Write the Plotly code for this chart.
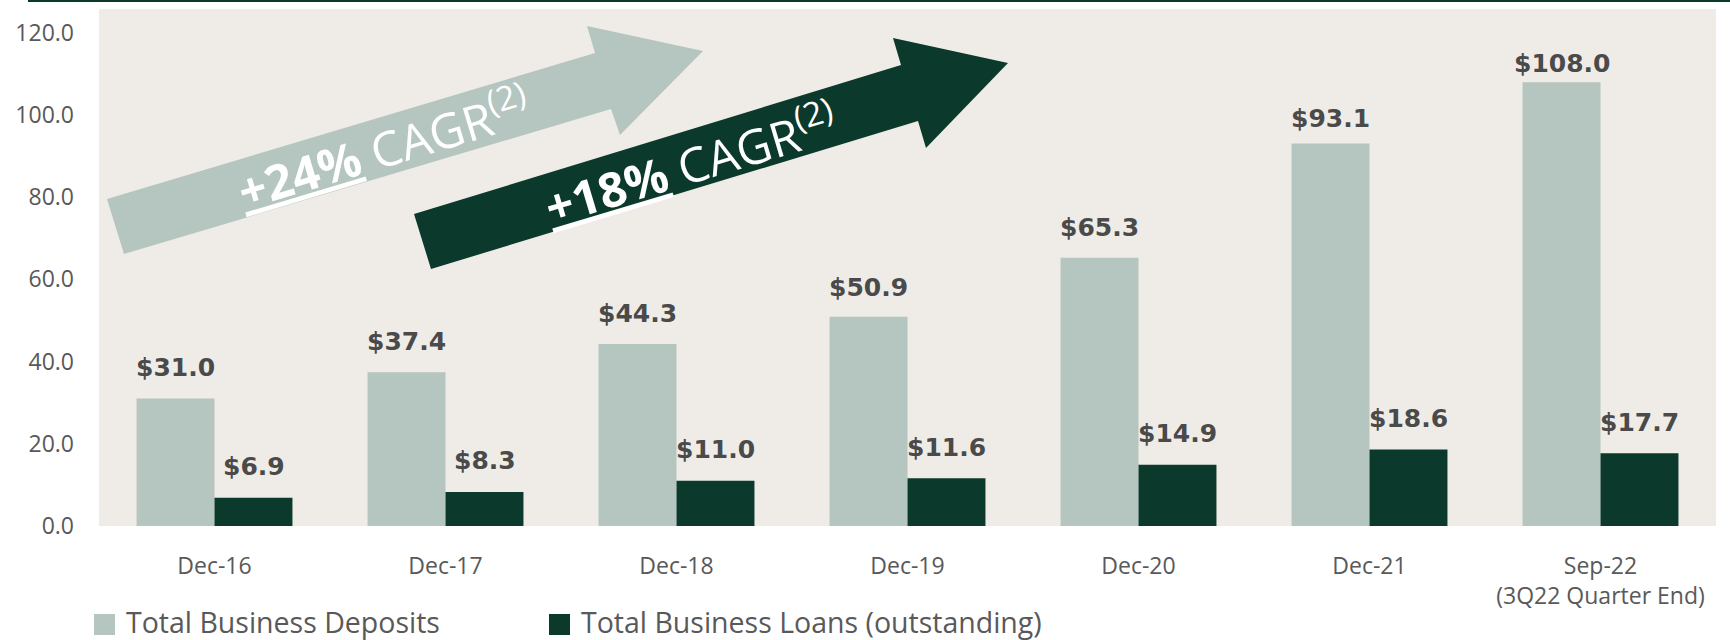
import plotly.graph_objects as go

# --- data ---
categories = ["Dec-16", "Dec-17", "Dec-18", "Dec-19", "Dec-20", "Dec-21",
              "Sep-22<br>(3Q22 Quarter End)"]
deposits = [31.0, 37.4, 44.3, 50.9, 65.3, 93.1, 108.0]
loans = [6.9, 8.3, 11.0, 11.6, 14.9, 18.6, 17.7]
series_names = ["Total Business Deposits", "Total Business Loans (outstanding)"]
y_ticks = [0, 20, 40, 60, 80, 100, 120]
cagr_texts = ["+24%", "+18%"]

LIGHT = "#B5C5BF"
DARK = "#0B3A2C"
BG = "#EFECE7"
LABEL = "#4A4A4A"
TICK = "#595959"

W, H = 1730, 640
L, R, T, B = 99, 14, 9, 114
PW, PH = W - L - R, H - T - B


def px(x, y):
    # pixel position on the page -> paper coords
    return (x - L) / PW, (H - B - y) / PH


def poly(points):
    parts = []
    for i, (x, y) in enumerate(points):
        u, v = px(x, y)
        parts.append(("M" if i == 0 else "L") + f"{u:.5f},{v:.5f}")
    return " ".join(parts) + " Z"


fig = go.Figure()
fig.add_trace(go.Bar(x=categories, y=deposits, name=series_names[0],
                     marker_color=LIGHT, marker_line_width=0, showlegend=False))
fig.add_trace(go.Bar(x=categories, y=loans, name=series_names[1],
                     marker_color=DARK, marker_line_width=0, showlegend=False))

# value labels above bars (the two tallest sit a little closer to their bars)
bar_px = 78
dep_lift = [31, 31, 30, 29, 30, 25, 19]
loan_lift = [31] * len(loans)
for vals, lifts, dx in [(deposits, dep_lift, -bar_px / 2), (loans, loan_lift, bar_px / 2)]:
    for c, v, lift in zip(categories, vals, lifts):
        fig.add_annotation(x=c, y=v, xref="x", yref="y", text=f"<b>${v:.1f}</b>",
                           showarrow=False, xshift=dx, yshift=lift, yanchor="middle",
                           font=dict(family="DejaVu Sans", size=25, color=LABEL))

# growth arrows
arrow_light = [(107, 199), (595, 53), (587, 26), (703, 51), (620, 135), (611, 109), (124, 254)]
arrow_dark = [(414, 214), (901, 65), (893, 38), (1008, 63), (926, 148), (918, 121), (431, 269)]
fig.add_shape(type="path", xref="paper", yref="paper", path=poly(arrow_light),
              fillcolor=LIGHT, line_width=0, layer="above")
fig.add_shape(type="path", xref="paper", yref="paper", path=poly(arrow_dark),
              fillcolor=DARK, line_width=0, layer="above")

for txt, (cx, cy) in zip(cagr_texts, [(383, 146), (690, 162)]):
    u, v = px(cx, cy)
    fig.add_annotation(x=u, y=v, xref="paper", yref="paper", showarrow=False,
                       xanchor="center", yanchor="middle",
                       text=f"<u><b>{txt}</b></u> CAGR<sup>(2)</sup>", textangle=-16.7,
                       font=dict(family="Open Sans", size=48, color="white"))

# top rule
u0, v0 = px(28, 1)
fig.add_shape(type="line", xref="paper", yref="paper", x0=u0, x1=px(W, 1)[0], y0=v0, y1=v0,
              line=dict(color=DARK, width=2))

# legend (drawn by hand for the large swatches)
for name, col, sx in zip(series_names, [LIGHT, DARK], [94, 549]):
    x0, y0 = px(sx, 614)
    x1, y1 = px(sx + 21, 635)
    fig.add_shape(type="rect", xref="paper", yref="paper", x0=x0, x1=x1, y0=y1, y1=y0,
                  fillcolor=col, line_width=0)
    tx, ty = px(sx + 30, 622)
    fig.add_annotation(x=tx, y=ty, xref="paper", yref="paper", text=name, showarrow=False,
                       xanchor="left", yanchor="middle",
                       font=dict(family="Open Sans", size=28.5, color=TICK))

fig.update_layout(
    width=W, height=H,
    margin=dict(l=L, r=R, t=T, b=B),
    barmode="group", bargap=0.325, bargroupgap=0,
    plot_bgcolor=BG, paper_bgcolor="white",
    font=dict(family="Open Sans", color=TICK),
)
fig.update_xaxes(showgrid=False, showline=False, zeroline=False,
                 ticks="", ticklabelstandoff=24, tickfont=dict(size=23, color=TICK))
fig.update_yaxes(range=[0, 125.8], tickvals=y_ticks, tickformat=".1f",
                 showgrid=False, showline=False, zeroline=False,
                 ticks="", ticklabelstandoff=24, tickfont=dict(size=23, color=TICK))

# drop the default page margin so the figure sits at the window's corner
fig.write_html("out.html", config={"displayModeBar": False},
               post_script="document.body.style.margin='0';document.body.style.overflow='hidden';")
